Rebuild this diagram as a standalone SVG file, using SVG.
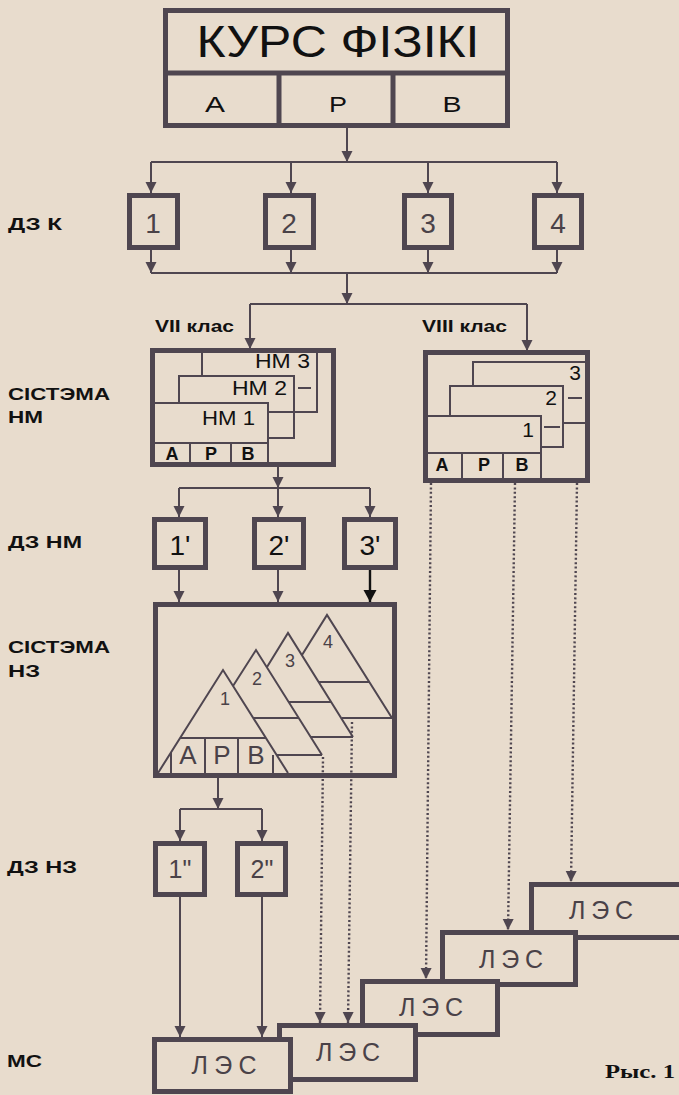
<svg xmlns="http://www.w3.org/2000/svg" width="679" height="1095" viewBox="0 0 679 1095">
<style>
.bx{fill:none;stroke:#4f4650;stroke-width:5}
.bf{fill:#e8dccd;stroke:#4f4650;stroke-width:5}
.th{fill:none;stroke:#4f4650;stroke-width:2}
.c{fill:none;stroke:#4f4650;stroke-width:2}
.d{fill:none;stroke:#4f4650;stroke-width:2.4;stroke-dasharray:2 2.4}
.t{font-family:"Liberation Sans",Arial,sans-serif;fill:#111}
.g{font-family:"Liberation Sans",Arial,sans-serif;fill:#4a4248}
.b{font-weight:bold}
.m{text-anchor:middle}
.e{text-anchor:end}
</style>
<defs>
<marker id="ar" markerUnits="userSpaceOnUse" markerWidth="12" markerHeight="12" refX="11" refY="5.5" orient="auto"><path d="M0,0 L11,5.5 L0,11 z" fill="#4f4650" stroke="none"/></marker>
<marker id="ark" markerUnits="userSpaceOnUse" markerWidth="14" markerHeight="14" refX="12" refY="6.5" orient="auto"><path d="M0,0 L12,6.5 L0,13 z" fill="#111" stroke="none"/></marker>
</defs>
<rect width="679" height="1095" fill="#e8dccd"/>

<g id="labels">
<text class="t b" x="8" y="230" font-size="17" textLength="54" lengthAdjust="spacingAndGlyphs">ДЗ К</text>
<text class="t b" x="8" y="400" font-size="17" textLength="102" lengthAdjust="spacingAndGlyphs">СІСТЭМА</text>
<text class="t b" x="8" y="423" font-size="17" textLength="35" lengthAdjust="spacingAndGlyphs">НМ</text>
<text class="t b" x="8" y="548" font-size="17" textLength="74" lengthAdjust="spacingAndGlyphs">ДЗ НМ</text>
<text class="t b" x="8" y="653" font-size="17" textLength="102" lengthAdjust="spacingAndGlyphs">СІСТЭМА</text>
<text class="t b" x="8" y="677" font-size="17" textLength="32" lengthAdjust="spacingAndGlyphs">НЗ</text>
<text class="t b" x="7" y="873" font-size="17" textLength="70" lengthAdjust="spacingAndGlyphs">ДЗ НЗ</text>
<text class="t b" x="7" y="1067" font-size="17" textLength="35" lengthAdjust="spacingAndGlyphs">МС</text>
<text class="t b" x="155" y="332" font-size="17" textLength="79" lengthAdjust="spacingAndGlyphs">VII клас</text>
<text class="t b" x="422" y="332" font-size="17" textLength="85" lengthAdjust="spacingAndGlyphs">VIII клас</text>
<text x="605" y="1078" font-family="'Liberation Serif','Times New Roman',serif" font-weight="bold" font-size="18" fill="#111" textLength="70" lengthAdjust="spacingAndGlyphs">Рыс. 1</text>
</g>

<g id="connectors">
<line class="c" x1="347" y1="128" x2="347" y2="162" marker-end="url(#ar)"/>
<line class="c" x1="151" y1="162" x2="557" y2="162"/>
<line class="c" x1="151" y1="162" x2="151" y2="193" marker-end="url(#ar)"/>
<line class="c" x1="291" y1="162" x2="291" y2="193" marker-end="url(#ar)"/>
<line class="c" x1="428" y1="162" x2="428" y2="193" marker-end="url(#ar)"/>
<line class="c" x1="557" y1="162" x2="557" y2="193" marker-end="url(#ar)"/>
<line class="c" x1="151" y1="249" x2="151" y2="273" marker-end="url(#ar)"/>
<line class="c" x1="291" y1="249" x2="291" y2="273" marker-end="url(#ar)"/>
<line class="c" x1="428" y1="249" x2="428" y2="273" marker-end="url(#ar)"/>
<line class="c" x1="557" y1="249" x2="557" y2="273" marker-end="url(#ar)"/>
<line class="c" x1="151" y1="273" x2="557" y2="273"/>
<line class="c" x1="347" y1="273" x2="347" y2="304" marker-end="url(#ar)"/>
<line class="c" x1="250" y1="304" x2="527" y2="304"/>
<line class="c" x1="250" y1="304" x2="250" y2="349" marker-end="url(#ar)"/>
<line class="c" x1="527" y1="304" x2="527" y2="351" marker-end="url(#ar)"/>
<line class="c" x1="278" y1="466" x2="278" y2="488" marker-end="url(#ar)"/>
<line class="c" x1="179" y1="488" x2="370" y2="488"/>
<line class="c" x1="179" y1="488" x2="179" y2="517" marker-end="url(#ar)"/>
<line class="c" x1="278" y1="488" x2="278" y2="517" marker-end="url(#ar)"/>
<line class="c" x1="370" y1="488" x2="370" y2="517" marker-end="url(#ar)"/>
<line class="c" x1="179" y1="570" x2="179" y2="602" marker-end="url(#ar)"/>
<line class="c" x1="278" y1="570" x2="278" y2="602" marker-end="url(#ar)"/>
<line x1="370" y1="570" x2="370" y2="602" stroke="#111" stroke-width="2.4" marker-end="url(#ark)"/>
<line class="c" x1="218" y1="778" x2="218" y2="809" marker-end="url(#ar)"/>
<line class="c" x1="180" y1="809" x2="262" y2="809"/>
<line class="c" x1="180" y1="809" x2="180" y2="841" marker-end="url(#ar)"/>
<line class="c" x1="262" y1="809" x2="262" y2="841" marker-end="url(#ar)"/>
<line class="c" x1="180" y1="897" x2="180" y2="1037" marker-end="url(#ar)"/>
<line class="c" x1="262" y1="897" x2="262" y2="1037" marker-end="url(#ar)"/>
<line class="d" x1="323" y1="757" x2="320" y2="1023" marker-end="url(#ar)"/>
<line class="d" x1="352" y1="722" x2="348" y2="1023" marker-end="url(#ar)"/>
<line class="d" x1="431" y1="483" x2="426" y2="979" marker-end="url(#ar)"/>
<line class="d" x1="515" y1="483" x2="508" y2="930" marker-end="url(#ar)"/>
<line class="d" x1="577" y1="483" x2="571" y2="882" marker-end="url(#ar)"/>
</g>

<g id="kurs">
<rect class="bx" x="165.5" y="10.5" width="342" height="115"/>
<line class="bx" x1="165.5" y1="73" x2="507.5" y2="73"/>
<line class="bx" x1="279" y1="73" x2="279" y2="125"/>
<line class="bx" x1="393" y1="73" x2="393" y2="125"/>
<text class="t m" x="338" y="57" font-size="45" textLength="283" lengthAdjust="spacingAndGlyphs">КУРС ФІЗІКІ</text>
<text class="t m" x="215" y="112" font-size="22" textLength="20" lengthAdjust="spacingAndGlyphs">А</text>
<text class="t m" x="338" y="112" font-size="22" textLength="18" lengthAdjust="spacingAndGlyphs">Р</text>
<text class="t m" x="452" y="112" font-size="22" textLength="19" lengthAdjust="spacingAndGlyphs">В</text>
</g>

<g id="dzk1"><rect class="bx" x="129.5" y="195.5" width="48" height="52"/><text class="g m" x="153" y="233" font-size="28">1</text></g>
<g id="dzk2"><rect class="bx" x="265.5" y="195.5" width="48" height="52"/><text class="g m" x="289" y="233" font-size="28">2</text></g>
<g id="dzk3"><rect class="bx" x="404.5" y="195.5" width="47" height="52"/><text class="g m" x="428" y="233" font-size="28">3</text></g>
<g id="dzk4"><rect class="bx" x="534.5" y="195.5" width="47" height="52"/><text class="g m" x="558" y="233" font-size="28">4</text></g>

<g id="vii">
<rect class="bx" x="152.5" y="350.5" width="181" height="114"/>
<polyline class="th" points="202,353 202,376"/>
<polyline class="th" points="317,353 317,412 268,412"/>
<polyline class="th" points="179,403 179,376 294,376 294,438 268,438"/>
<polyline class="th" points="155,403 268,403 268,463"/>
<line class="th" x1="155" y1="443" x2="268" y2="443"/>
<line class="th" x1="190" y1="443" x2="190" y2="463"/>
<line class="th" x1="231" y1="443" x2="231" y2="463"/>
<line class="th" x1="298" y1="388" x2="311" y2="388"/>
<text class="t e" x="310" y="368" font-size="21" textLength="55" lengthAdjust="spacingAndGlyphs">НМ 3</text>
<text class="t e" x="287" y="395" font-size="21" textLength="55" lengthAdjust="spacingAndGlyphs">НМ 2</text>
<text class="t e" x="255" y="425" font-size="21" textLength="53" lengthAdjust="spacingAndGlyphs">НМ 1</text>
<text class="t b m" x="172" y="460" font-size="18">А</text>
<text class="t b m" x="211" y="460" font-size="18">Р</text>
<text class="t b m" x="248" y="460" font-size="18">В</text>
</g>

<g id="viii">
<rect class="bx" x="425.5" y="352.5" width="162" height="128"/>
<polyline class="th" points="473,386 473,362 586,362"/>
<line class="th" x1="563" y1="423" x2="586" y2="423"/>
<polyline class="th" points="450,416 450,386 563,386 563,447 541,447"/>
<polyline class="th" points="428,416 541,416 541,479"/>
<line class="th" x1="428" y1="453" x2="541" y2="453"/>
<line class="th" x1="462" y1="453" x2="462" y2="479"/>
<line class="th" x1="503" y1="453" x2="503" y2="479"/>
<line class="th" x1="544" y1="427" x2="560" y2="427"/>
<line class="th" x1="568" y1="398" x2="582" y2="398"/>
<text class="t e" x="581" y="380" font-size="21">3</text>
<text class="t e" x="557" y="405" font-size="21">2</text>
<text class="t e" x="534" y="437" font-size="21">1</text>
<text class="t b m" x="442" y="471" font-size="18">А</text>
<text class="t b m" x="484" y="471" font-size="18">Р</text>
<text class="t b m" x="522" y="471" font-size="18">В</text>
</g>

<g id="dznm1"><rect class="bx" x="154.5" y="519.5" width="51" height="48"/><text class="t m" x="180" y="555" font-size="28">1'</text></g>
<g id="dznm2"><rect class="bx" x="254.5" y="519.5" width="49" height="48"/><text class="t m" x="279" y="555" font-size="28">2'</text></g>
<g id="dznm3"><rect class="bx" x="344.5" y="519.5" width="51" height="48"/><text class="t m" x="370" y="555" font-size="28">3'</text></g>

<g id="nz">
<rect class="bx" x="155.5" y="604.5" width="239" height="171"/>
<polyline class="th" points="158,773 223,670 288,773"/>
<line class="th" x1="180" y1="738" x2="266" y2="738"/>
<line class="th" x1="205" y1="738" x2="205" y2="773"/>
<line class="th" x1="238" y1="738" x2="238" y2="773"/>
<line class="th" x1="171" y1="752" x2="171" y2="773"/>
<line class="th" x1="273" y1="755" x2="273" y2="773"/>
<polyline class="th" points="233,686 256,650 322,755"/>
<line class="th" x1="253" y1="718" x2="299" y2="718"/>
<line class="th" x1="277" y1="755" x2="322" y2="755"/>
<polyline class="th" points="267,667 288,633 353,737"/>
<line class="th" x1="289" y1="702" x2="331" y2="702"/>
<line class="th" x1="311" y1="737" x2="353" y2="737"/>
<polyline class="th" points="302,655 327,615 392,718"/>
<line class="th" x1="319" y1="682" x2="369" y2="682"/>
<line class="th" x1="342" y1="718" x2="392" y2="718"/>
<text class="g m" x="225" y="705" font-size="18">1</text>
<text class="g m" x="257" y="685" font-size="18">2</text>
<text class="g m" x="290" y="667" font-size="18">3</text>
<text class="g m" x="328" y="648" font-size="18">4</text>
<text class="g m" x="188" y="764" font-size="26">А</text>
<text class="g m" x="222" y="764" font-size="26">Р</text>
<text class="g m" x="256" y="764" font-size="26">В</text>
</g>

<g id="dznz1"><rect class="bx" x="155.5" y="843.5" width="49" height="51"/><text class="g m" x="180" y="878" font-size="25">1"</text></g>
<g id="dznz2"><rect class="bx" x="237.5" y="843.5" width="48" height="51"/><text class="g m" x="262" y="878" font-size="25">2"</text></g>

<g id="les5"><rect class="bf" x="531.5" y="884.5" width="155" height="53"/><text class="g m" x="601" y="919" font-size="25" textLength="64" lengthAdjust="spacing">ЛЭС</text></g>
<g id="les4"><rect class="bf" x="442.5" y="932.5" width="133" height="52"/><text class="g m" x="511" y="968" font-size="25" textLength="64" lengthAdjust="spacing">ЛЭС</text></g>
<g id="les3"><rect class="bf" x="362.5" y="981.5" width="135" height="53"/><text class="g m" x="431" y="1016" font-size="25" textLength="64" lengthAdjust="spacing">ЛЭС</text></g>
<g id="les2"><rect class="bf" x="279.5" y="1025.5" width="136" height="54"/><text class="g m" x="348" y="1061" font-size="25" textLength="64" lengthAdjust="spacing">ЛЭС</text></g>
<g id="les1"><rect class="bf" x="154.5" y="1039.5" width="136" height="52"/><text class="g m" x="224" y="1074" font-size="25" textLength="65" lengthAdjust="spacing">ЛЭС</text></g>
</svg>
